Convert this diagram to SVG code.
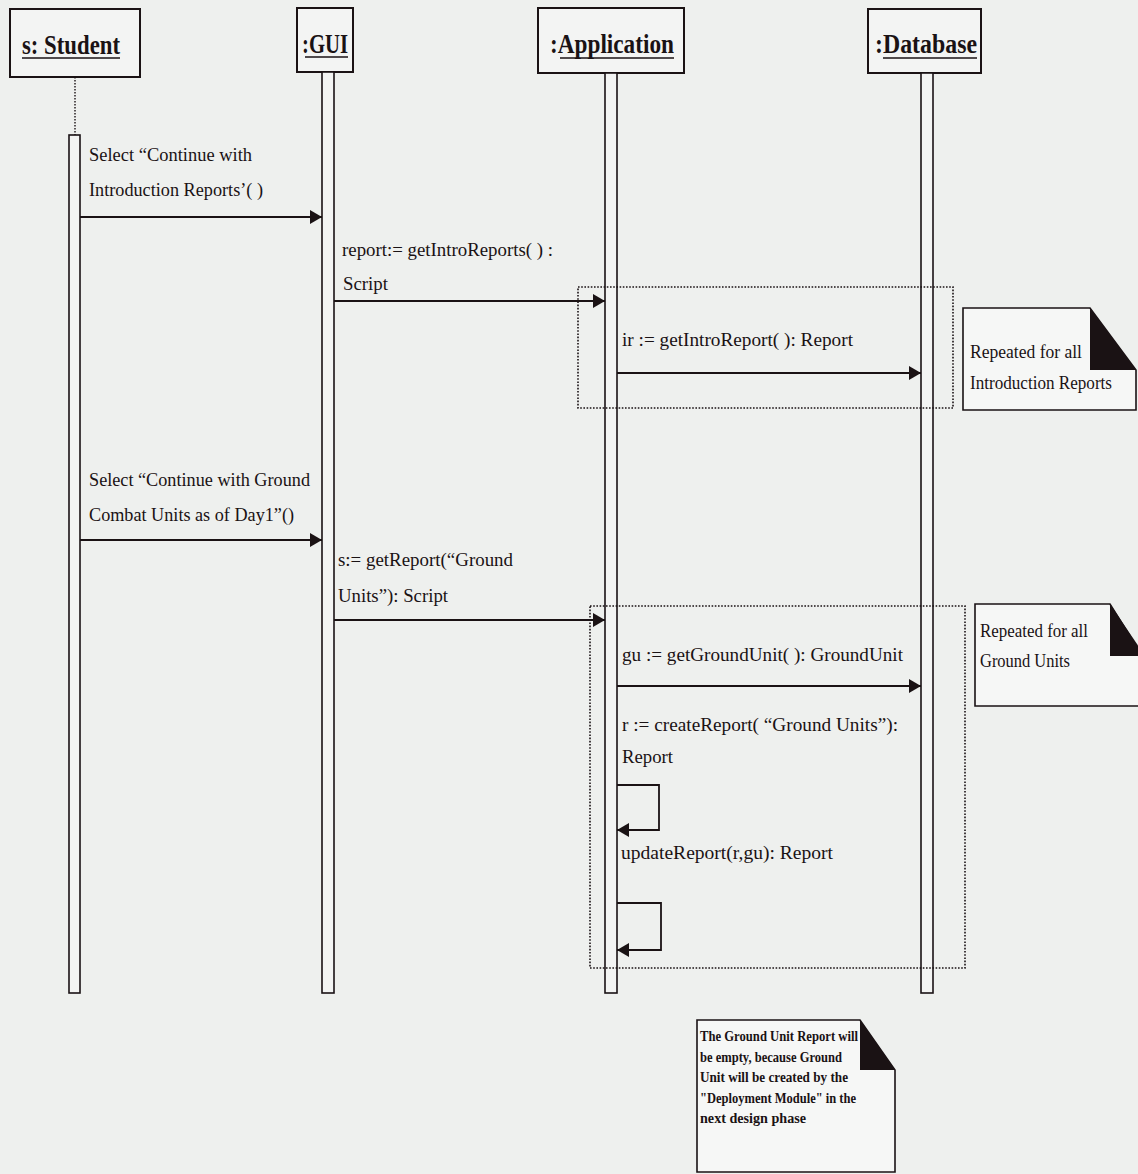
<svg xmlns="http://www.w3.org/2000/svg" width="1138" height="1174" viewBox="0 0 1138 1174">
<defs>
<marker id="ah" markerUnits="userSpaceOnUse" markerWidth="12" markerHeight="14" refX="12" refY="7" orient="auto">
<path d="M0,0 L12,7 L0,14 Z" fill="#1a1214"/>
</marker>
<style>
.box{fill:#f3f4f3;stroke:#1a1214;stroke-width:2}
.bar{fill:#f3f4f3;stroke:#1a1214;stroke-width:1.6}
.hd{font-family:"Liberation Serif",serif;font-weight:bold;font-size:27px;fill:#1a1214}
.t{font-family:"Liberation Serif",serif;font-size:18px;fill:#1a1214}
.n{font-family:"Liberation Serif",serif;font-weight:bold;font-size:15px;fill:#1a1214}
.msg{stroke:#1a1214;stroke-width:1.8;fill:none}
.frag{fill:none;stroke:#1a1214;stroke-width:1.6;stroke-dasharray:1.6 1.6}
.note{fill:#f6f7f6;stroke:#1a1214;stroke-width:1.6}
.ul{stroke:#1a1214;stroke-width:1.6}
</style>
</defs>
<rect x="0" y="0" width="1138" height="1174" fill="#eef0ee"/>

<g id="student">
<rect class="box" x="10" y="9" width="130" height="68"/>
<text class="hd" x="22" y="54" textLength="98" lengthAdjust="spacingAndGlyphs">s: Student</text>
<line class="ul" x1="22" y1="58" x2="120" y2="58"/>
<line x1="75" y1="77" x2="75" y2="135" stroke="#1a1214" stroke-width="1.4" stroke-dasharray="1.5 1.5"/>
<rect class="bar" x="69" y="135" width="11" height="858"/>
</g>

<g id="gui">
<rect class="box" x="297" y="8" width="56" height="64"/>
<text class="hd" x="302" y="53" textLength="46" lengthAdjust="spacingAndGlyphs">:GUI</text>
<line class="ul" x1="305" y1="57" x2="348" y2="57"/>
<rect class="bar" x="322" y="72" width="12" height="921"/>
</g>

<g id="application">
<rect class="box" x="538" y="8" width="146" height="65"/>
<text class="hd" x="550" y="53" textLength="124" lengthAdjust="spacingAndGlyphs">:Application</text>
<line class="ul" x1="560" y1="58" x2="674" y2="58"/>
<rect class="bar" x="605" y="73" width="12" height="920"/>
</g>

<g id="database">
<rect class="box" x="868" y="9" width="113" height="64"/>
<text class="hd" x="875" y="53" textLength="102" lengthAdjust="spacingAndGlyphs">:Database</text>
<line class="ul" x1="883" y1="58" x2="977" y2="58"/>
<rect class="bar" x="921" y="73" width="12" height="920"/>
</g>

<g id="fragment-intro">
<rect class="frag" x="578" y="287" width="375" height="121"/>
</g>
<g id="fragment-ground">
<rect class="frag" x="590" y="606" width="375" height="362"/>
</g>

<g id="note-intro">
<path class="note" d="M963,308 L1090,308 L1136,370 L1136,410 L963,410 Z"/>
<path d="M1090,308 L1090,370 L1136,370 Z" fill="#1a1214"/>
<text class="t" x="970" y="358" textLength="112" lengthAdjust="spacingAndGlyphs">Repeated for all</text>
<text class="t" x="970" y="389" textLength="142" lengthAdjust="spacingAndGlyphs">Introduction Reports</text>
</g>

<g id="note-ground">
<path class="note" d="M975,604 L1110,604 L1145,660 L1145,706 L975,706 Z"/>
<path d="M1110,604 L1110,656 L1145,656 Z" fill="#1a1214"/>
<text class="t" x="980" y="637" textLength="108" lengthAdjust="spacingAndGlyphs">Repeated for all</text>
<text class="t" x="980" y="667" textLength="90" lengthAdjust="spacingAndGlyphs">Ground Units</text>
</g>

<g id="note-empty">
<path class="note" d="M697,1020 L860,1020 L895,1070 L895,1172 L697,1172 Z"/>
<path d="M860,1020 L860,1070 L895,1070 Z" fill="#1a1214"/>
<text class="n" x="700" y="1041" textLength="158" lengthAdjust="spacingAndGlyphs">The Ground Unit Report will</text>
<text class="n" x="700" y="1062" textLength="142" lengthAdjust="spacingAndGlyphs">be empty, because Ground</text>
<text class="n" x="700" y="1082" textLength="148" lengthAdjust="spacingAndGlyphs">Unit will be created by the</text>
<text class="n" x="700" y="1103" textLength="156" lengthAdjust="spacingAndGlyphs">"Deployment Module" in the</text>
<text class="n" x="700" y="1123" textLength="106" lengthAdjust="spacingAndGlyphs">next design phase</text>
</g>

<g id="connectors">
<line class="msg" x1="80" y1="217" x2="322" y2="217" marker-end="url(#ah)"/>
<line class="msg" x1="334" y1="301" x2="605" y2="301" marker-end="url(#ah)"/>
<line class="msg" x1="617" y1="373" x2="921" y2="373" marker-end="url(#ah)"/>
<line class="msg" x1="80" y1="540" x2="322" y2="540" marker-end="url(#ah)"/>
<line class="msg" x1="334" y1="620" x2="605" y2="620" marker-end="url(#ah)"/>
<line class="msg" x1="617" y1="686" x2="921" y2="686" marker-end="url(#ah)"/>
<polyline class="msg" points="617,785 659,785 659,830 617,830" marker-end="url(#ah)"/>
<polyline class="msg" points="617,903 661,903 661,950 617,950" marker-end="url(#ah)"/>
</g>

<g id="labels">
<text class="t" x="89" y="161" textLength="163" lengthAdjust="spacingAndGlyphs">Select “Continue with</text>
<text class="t" x="89" y="196" textLength="174" lengthAdjust="spacingAndGlyphs">Introduction Reports’( )</text>
<text class="t" x="342" y="256" textLength="211" lengthAdjust="spacingAndGlyphs">report:= getIntroReports( ) :</text>
<text class="t" x="343" y="290" textLength="45" lengthAdjust="spacingAndGlyphs">Script</text>
<text class="t" x="622" y="346" textLength="231" lengthAdjust="spacingAndGlyphs">ir := getIntroReport( ): Report</text>
<text class="t" x="89" y="486" textLength="221" lengthAdjust="spacingAndGlyphs">Select “Continue with Ground</text>
<text class="t" x="89" y="521" textLength="205" lengthAdjust="spacingAndGlyphs">Combat Units as of Day1”()</text>
<text class="t" x="338" y="566" textLength="175" lengthAdjust="spacingAndGlyphs">s:= getReport(“Ground</text>
<text class="t" x="338" y="602" textLength="110" lengthAdjust="spacingAndGlyphs">Units”): Script</text>
<text class="t" x="622" y="661" textLength="281" lengthAdjust="spacingAndGlyphs">gu := getGroundUnit( ): GroundUnit</text>
<text class="t" x="622" y="731" textLength="276" lengthAdjust="spacingAndGlyphs">r := createReport( “Ground Units”):</text>
<text class="t" x="622" y="763" textLength="51" lengthAdjust="spacingAndGlyphs">Report</text>
<text class="t" x="621" y="859" textLength="212" lengthAdjust="spacingAndGlyphs">updateReport(r,gu): Report</text>
</g>
</svg>
